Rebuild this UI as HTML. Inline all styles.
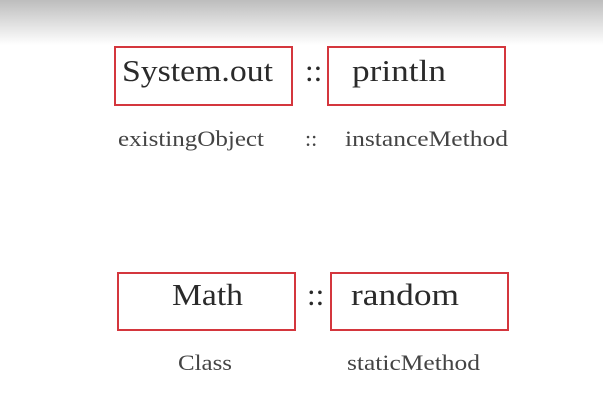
<!DOCTYPE html>
<html><head><style>
html,body{margin:0;padding:0;width:603px;height:403px;overflow:hidden;background:#fff}
</style></head><body>
<svg width="603" height="403" xmlns="http://www.w3.org/2000/svg" font-family="'Liberation Serif',serif">
<defs><linearGradient id="g" x1="0" y1="0" x2="0" y2="1">
<stop offset="0" stop-color="#bdbdbd"/><stop offset="1" stop-color="#ffffff"/></linearGradient></defs>
<rect x="0" y="0" width="603" height="45" fill="url(#g)"/>
<g fill="none" stroke="#d4363d" stroke-width="2">
<rect x="115" y="47" width="177" height="58"/>
<rect x="328" y="47" width="177" height="58"/>
<rect x="118" y="273" width="177" height="57"/>
<rect x="331" y="273" width="177" height="57"/>
</g>
<g fill="#2a2a2a" font-size="31">
<text x="122" y="81" textLength="151" lengthAdjust="spacingAndGlyphs">System.out</text>
<text x="305" y="81">::</text>
<text x="352" y="81" textLength="94" lengthAdjust="spacingAndGlyphs">println</text>
<text x="172" y="305" textLength="71" lengthAdjust="spacingAndGlyphs">Math</text>
<text x="307" y="305">::</text>
<text x="351" y="305" textLength="108" lengthAdjust="spacingAndGlyphs">random</text>
</g>
<g fill="#444" font-size="22">
<text x="118" y="146" textLength="146" lengthAdjust="spacingAndGlyphs">existingObject</text>
<text x="305" y="146">::</text>
<text x="345" y="146" textLength="163" lengthAdjust="spacingAndGlyphs">instanceMethod</text>
<text x="178" y="370" textLength="54" lengthAdjust="spacingAndGlyphs">Class</text>
<text x="347" y="370" textLength="133" lengthAdjust="spacingAndGlyphs">staticMethod</text>
</g>
</svg>
</body></html>
